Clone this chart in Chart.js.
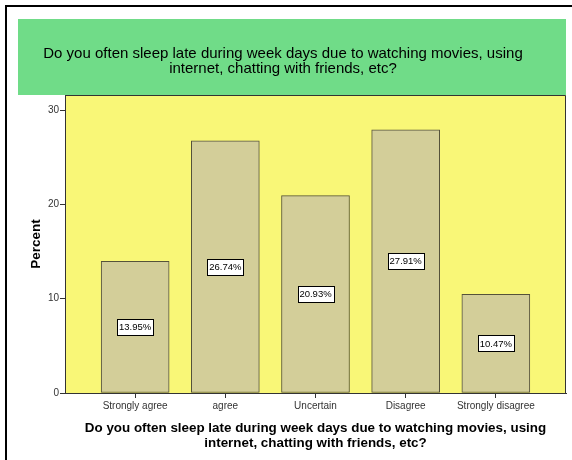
<!DOCTYPE html>
<html><head><meta charset="utf-8">
<script src="https://cdn.jsdelivr.net/npm/chart.js@4"></script>
<style>html,body{margin:0;padding:0;background:#fff;overflow:hidden}#wrap{width:572px;height:460px;position:relative}</style>
</head><body><div id="wrap"><canvas id="c" width="572" height="460"></canvas></div>
<script>
const categories = ['Strongly agree','agree','Uncertain','Disagree','Strongly disagree'];
const percents = [13.95, 26.74, 20.93, 27.91, 10.47];
const yTicks = [0, 10, 20, 30];
const titleLines = ['Do you often sleep late during week days due to watching movies, using', 'internet, chatting with friends, etc?'];
const xTitleLines = ['Do you often sleep late during week days due to watching movies, using', 'internet, chatting with friends, etc?'];
const yTitle = 'Percent';

const FONT = "'Liberation Sans', Arial, sans-serif";

const decor = {
  id: 'decor',
  beforeDraw(chart) {
    const ctx = chart.ctx, a = chart.chartArea;
    ctx.save();
    ctx.fillStyle = '#ffffff';
    ctx.fillRect(0, 0, chart.width, chart.height);
    ctx.fillStyle = '#000000';
    ctx.fillRect(5, 5, chart.width, 2);
    ctx.fillRect(5, 5, 2, chart.height);
    ctx.fillStyle = '#70DC88';
    ctx.fillRect(18, 19, a.right - 18, a.top - 19);
    ctx.fillStyle = '#F9F777';
    ctx.fillRect(a.left, a.top, a.right - a.left, a.bottom - a.top);
    ctx.restore();
  },
  afterDatasetsDraw(chart) {
    const ctx = chart.ctx, a = chart.chartArea;
    ctx.save();
    ctx.strokeStyle = '#333333';
    ctx.lineWidth = 1;
    ctx.beginPath();
    ctx.moveTo(a.left, a.top + 0.5);
    ctx.lineTo(a.right - 0.5, a.top + 0.5);
    ctx.lineTo(a.right - 0.5, a.bottom);
    ctx.stroke();
    // value labels
    const meta = chart.getDatasetMeta(0);
    ctx.font = '9.5px ' + FONT;
    ctx.textAlign = 'center';
    ctx.textBaseline = 'middle';
    meta.data.forEach((bar, i) => {
      const txt = percents[i].toFixed(2) + '%';
      const cx = bar.x;
      const cy = (bar.y + bar.base) / 2;
      const w = Math.round(ctx.measureText(txt).width + 4);
      const h = 16;
      const x0 = Math.round(cx - w / 2) + 0.5, y0 = Math.round(cy - h / 2) + 0.5;
      ctx.fillStyle = '#ffffff';
      ctx.fillRect(x0, y0, w, h);
      ctx.strokeStyle = '#000000';
      ctx.strokeRect(x0, y0, w, h);
      ctx.fillStyle = '#000000';
      ctx.fillText(txt, cx, cy + 0.5);
    });
    ctx.restore();
  }
};

new Chart(document.getElementById('c'), {
  type: 'bar',
  data: {
    datasets: [{
      data: categories.map((c, i) => ({ x: i, y: percents[i] })),
      backgroundColor: '#D3CE99',
      borderColor: '#55523A',
      borderWidth: 1,
      borderSkipped: false,
      barThickness: 68
    }]
  },
  options: {
    responsive: false,
    devicePixelRatio: 1,
    animation: false,
    layout: { padding: { left: 0, top: 0, right: 6, bottom: 0 } },
    plugins: {
      legend: { display: false },
      tooltip: { enabled: false },
      title: {
        display: true,
        text: titleLines,
        color: '#000000',
        font: { family: FONT, size: 15, weight: 'normal', lineHeight: 1.0 },
        padding: { top: 46.5, bottom: 18.5 }
      }
    },
    scales: {
      x: {
        type: 'linear',
        offset: false,
        min: -0.778,
        max: 4.778,
        afterBuildTicks(scale) { scale.ticks = categories.map((c, i) => ({ value: i })); },
        afterFit(scale) { scale.height = 67; },
        ticks: {
          autoSkip: false, maxRotation: 0, minRotation: 0,
          padding: 2,
          color: '#333333',
          font: { family: FONT, size: 10 },
          callback: (v) => categories[v]
        },
        grid: { offset: false, drawOnChartArea: false, drawTicks: true, tickLength: 5, tickColor: '#333333' },
        border: { display: true, color: '#333333', width: 1 },
        title: {
          display: true,
          text: xTitleLines,
          color: '#000000',
          font: { family: FONT, size: 13.4, weight: 'bold', lineHeight: 1.12 },
          padding: { top: 0, bottom: 9 }
        }
      },
      y: {
        min: 0,
        max: 31.6,
        afterBuildTicks(scale) { scale.ticks = yTicks.map(v => ({ value: v })); },
        afterFit(scale) { scale.width = 65; },
        ticks: {
          padding: 1,
          color: '#333333',
          font: { family: FONT, size: 10 }
        },
        grid: { drawOnChartArea: false, drawTicks: true, tickLength: 5, tickColor: '#333333' },
        border: { display: true, color: '#333333', width: 1 },
        title: {
          display: true,
          text: yTitle,
          color: '#000000',
          font: { family: FONT, size: 13.5, weight: 'bold', lineHeight: 1.12 },
          padding: { top: 29, bottom: 0 }
        }
      }
    }
  },
  plugins: [decor]
});
</script>
</body></html>
